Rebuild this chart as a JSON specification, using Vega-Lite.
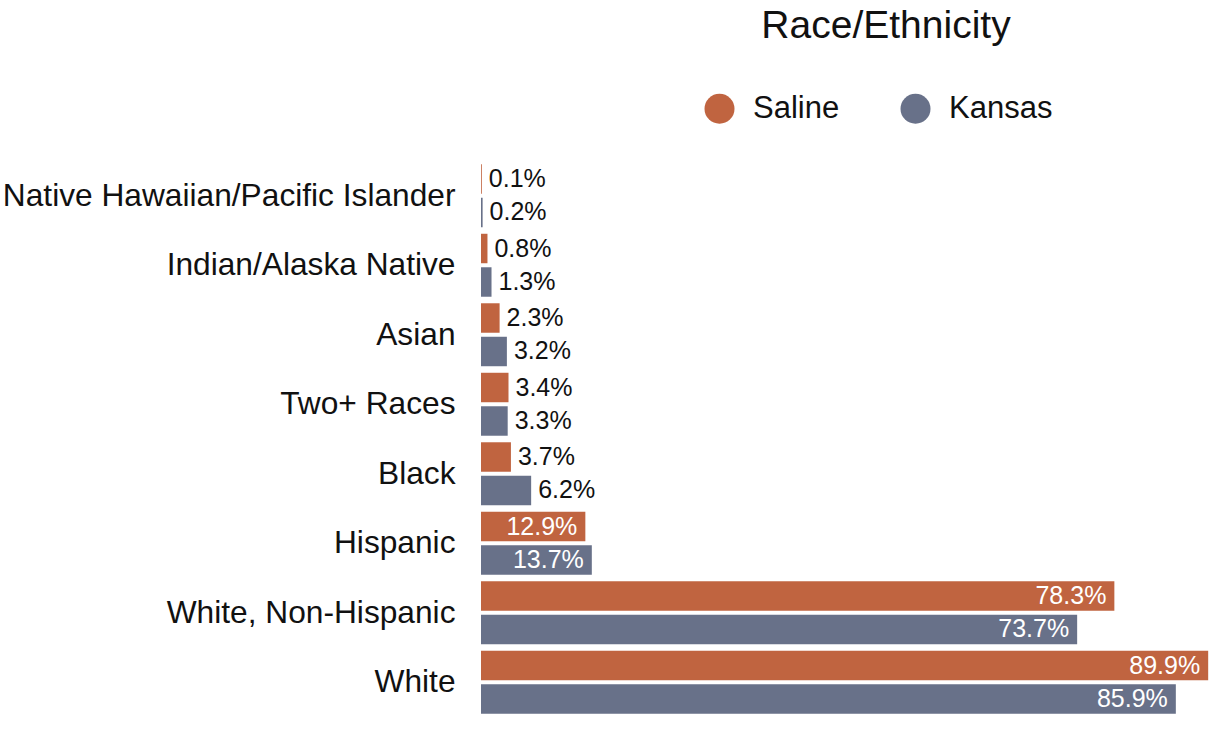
{
  "$schema": "https://vega.github.io/schema/vega-lite/v6.json",
  "width": 728,
  "height": 556,
  "autosize": {"type": "none"},
  "padding": {"left": 481, "top": 161, "right": 0, "bottom": 26},
  "background": "white",
  "config": {
    "view": {"stroke": null},
    "font": "Liberation Sans",
    "text": {"font": "Liberation Sans"}
  },
  "title": {
    "text": "Race/Ethnicity",
    "fontSize": 39,
    "fontWeight": "normal",
    "font": "Liberation Sans",
    "color": "#111111",
    "anchor": "middle",
    "dx": 41,
    "offset": 47
  },
  "data": {
    "values": [
      {"category": "Native Hawaiian/Pacific Islander", "area": "Saline", "value": 0.001},
      {"category": "Native Hawaiian/Pacific Islander", "area": "Kansas", "value": 0.002},
      {"category": "Indian/Alaska Native", "area": "Saline", "value": 0.008},
      {"category": "Indian/Alaska Native", "area": "Kansas", "value": 0.013},
      {"category": "Asian", "area": "Saline", "value": 0.023},
      {"category": "Asian", "area": "Kansas", "value": 0.032},
      {"category": "Two+ Races", "area": "Saline", "value": 0.034},
      {"category": "Two+ Races", "area": "Kansas", "value": 0.033},
      {"category": "Black", "area": "Saline", "value": 0.037},
      {"category": "Black", "area": "Kansas", "value": 0.062},
      {"category": "Hispanic", "area": "Saline", "value": 0.129},
      {"category": "Hispanic", "area": "Kansas", "value": 0.137},
      {"category": "White, Non-Hispanic", "area": "Saline", "value": 0.783},
      {"category": "White, Non-Hispanic", "area": "Kansas", "value": 0.737},
      {"category": "White", "area": "Saline", "value": 0.899},
      {"category": "White", "area": "Kansas", "value": 0.859}
    ]
  },
  "encoding": {
    "y": {
      "field": "category",
      "type": "nominal",
      "sort": ["Native Hawaiian/Pacific Islander", "Indian/Alaska Native", "Asian", "Two+ Races", "Black", "Hispanic", "White, Non-Hispanic", "White"],
      "scale": {"paddingInner": 0.094, "paddingOuter": 0.047},
      "axis": {
        "title": null,
        "domain": false,
        "ticks": false,
        "labelPadding": 26,
        "labelFontSize": 31.7,
        "labelColor": "#111111",
        "labelFont": "Liberation Sans",
        "labelLimit": 0
      }
    },
    "yOffset": {
      "field": "area",
      "type": "nominal",
      "sort": ["Saline", "Kansas"],
      "scale": {"paddingInner": 0.12, "paddingOuter": 0}
    },
    "x": {
      "field": "value",
      "type": "quantitative",
      "scale": {"domain": [0, 0.9], "nice": false},
      "axis": null
    }
  },
  "layer": [
    {
      "mark": {"type": "bar"},
      "encoding": {
        "color": {
          "field": "area",
          "type": "nominal",
          "sort": ["Saline", "Kansas"],
          "scale": {"domain": ["Saline", "Kansas"], "range": ["#c06440", "#687189"]},
          "legend": {
            "title": null,
            "orient": "none",
            "legendX": 223,
            "legendY": -68,
            "direction": "horizontal",
            "symbolType": "circle",
            "symbolSize": 900,
            "symbolStrokeWidth": 0,
            "labelFontSize": 31,
            "labelFont": "Liberation Sans",
            "labelColor": "#111111",
            "labelOffset": 18,
            "columnPadding": 60
          }
        }
      }
    },
    {
      "transform": [{"filter": "datum.value < 0.1"}],
      "mark": {"type": "text", "align": "left", "baseline": "middle", "dx": 7, "fontSize": 25, "color": "#111111"},
      "encoding": {
        "text": {"field": "value", "type": "quantitative", "format": ".1%"},
        "detail": {"field": "area"}
      }
    },
    {
      "transform": [{"filter": "datum.value >= 0.1"}],
      "mark": {"type": "text", "align": "right", "baseline": "middle", "dx": -8, "fontSize": 25, "color": "white"},
      "encoding": {
        "text": {"field": "value", "type": "quantitative", "format": ".1%"},
        "detail": {"field": "area"}
      }
    }
  ]
}
